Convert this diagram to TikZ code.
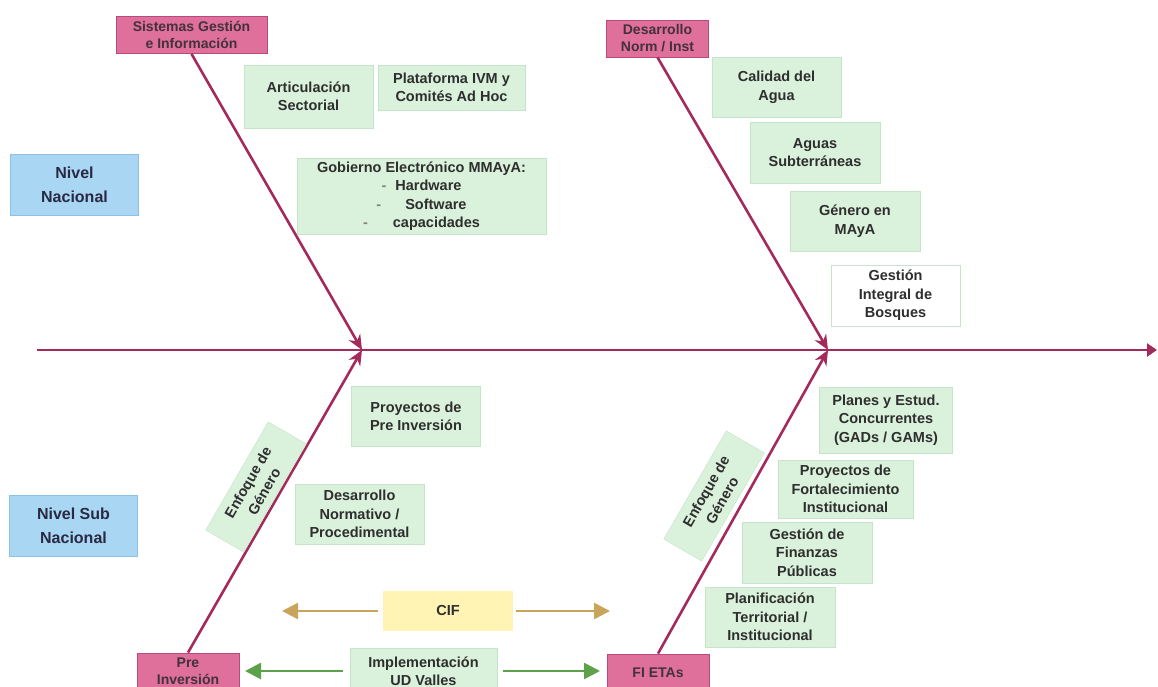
\documentclass[tikz,border=0pt]{standalone}
\usepackage{fontspec}
\setmainfont{Liberation Sans}
\usepackage{xcolor}
\usepackage{tikz}
\usetikzlibrary{calc,arrows.meta,positioning}
\definecolor{bonex}{HTML}{A52A5C}
\definecolor{pinkx}{HTML}{DF6F9B}
\definecolor{pinkdk}{HTML}{B84A7C}
\definecolor{mintx}{HTML}{DAF1DB}
\definecolor{mintdk}{HTML}{C6E4C7}
\definecolor{skyx}{HTML}{A8D6F3}
\definecolor{skydk}{HTML}{8CC2E6}
\definecolor{cifx}{HTML}{FFF4B3}
\definecolor{tanx}{HTML}{C9A55C}
\definecolor{grnx}{HTML}{5DA24B}
\definecolor{inkx}{HTML}{2E2E2E}
\tikzset{
  cause/.style={draw=pinkdk,fill=pinkx,thick,minimum width=102pt,minimum height=37pt,inner sep=0pt,align=center,font=\bfseries\fontsize{14}{17}\selectfont,text=inkx!85!pinkdk},
  nivel/.style={draw=skydk,fill=skyx,minimum width=128pt,minimum height=61pt,inner sep=0pt,align=center,font=\bfseries\fontsize{16}{24}\selectfont,text=inkx!90!blue},
  mint/.style={draw=mintdk,fill=mintx,minimum width=129pt,minimum height=60pt,inner sep=0pt,align=center,font=\bfseries\fontsize{14.5}{18.5}\selectfont,text=inkx},
  cifbox/.style={fill=cifx,minimum width=130pt,minimum height=40pt,inner sep=0pt,font=\bfseries\fontsize{14.5}{18.5}\selectfont,text=inkx},
  spine/.style={-{Triangle[length=10pt,width=13pt]},line width=2.6pt,bonex},
  bone/.style={-{Stealth[length=15pt,width=13pt]},line width=2.6pt,bonex},
  tanar/.style={-{Triangle[length=16pt,width=16pt]},line width=2.6pt,tanx},
  grnar/.style={-{Triangle[length=16pt,width=16pt]},line width=2.6pt,grnx}
}

\begin{document}
\begin{tikzpicture}[x=1pt,y=-1pt]
\useasboundingbox (0,0) rectangle (1158,687);
% espina
\coordinate (cola) at (37,350);
\coordinate (cabeza) at (1157,350);
\coordinate (j1) at (362,350);
\coordinate (j2) at (828,350);
\draw[spine] (cola) -- (cabeza);
% causas
\node[cause,minimum width=151pt] (sgi) at (191.5,35) {Sistemas Gestión\\e Información};
\node[cause] (dni) at (657.5,38.5) {Desarrollo\\Norm / Inst};
\node[cause] (pin) at (188,671.5) {Pre\\Inversión};
\node[cause] (fie) at (658,672.5) {FI ETAs};
\draw[bone] (sgi.south) -- (j1);
\draw[bone] (dni.south) -- (j2);
\draw[bone] (pin.north) -- (j1);
\draw[bone] (fie.north) -- (j2);
% niveles
\node[nivel] (nn) at (74.5,184.5) {Nivel\\Nacional};
\node[nivel] (nsn) at (73.5,525.5) {Nivel Sub\\Nacional};
% nivel nacional
\node[mint,minimum height=63pt] (art) at (308.5,96.5) {Articulación\\Sectorial};
\node[mint,minimum width=147pt,minimum height=45pt] (plat) at (451.5,87.5) {Plataforma IVM y\\Comités Ad Hoc};
\node[mint,minimum width=249pt,minimum height=76pt] (gob) at (421.5,196) {Gobierno Electrónico MMAyA:\\{\color{gray}-}\hspace{9pt}Hardware\\{\color{gray}-}\hspace{24pt}Software\\{\color{gray}-}\hspace{25pt}capacidades};
\node[mint] (cal) at (776.5,87.5) {Calidad del\\Agua};
\node[mint,minimum width=130pt,minimum height=61pt] (agu) at (815,152.5) {Aguas\\Subterráneas};
\node[mint,minimum width=130pt] (gen) at (855,221) {Género en\\MAyA};
\node[mint,fill=white,minimum height=61pt] (bos) at (895.5,295.5) {Gestión\\Integral de\\Bosques};
% nivel sub nacional
\node[mint] (pro) at (416,416.5) {Proyectos de\\Pre Inversión};
\node[mint] (dnp) at (359.5,514) {Desarrollo\\Normativo /\\Procedimental};
\node[mint,rotate=60,minimum width=125pt,minimum height=44pt] (eg1) at (256,487) {Enfoque de\\Género};
\node[mint,minimum width=133pt,minimum height=66pt] (pla) at (886,420) {Planes y Estud.\\Concurrentes\\(GADs / GAMs)};
\node[mint,minimum width=135pt,minimum height=58pt] (pfi) at (845.5,489) {Proyectos de\\Fortalecimiento\\Institucional};
\node[mint,minimum width=130pt,minimum height=61pt] (gfp) at (807,552.5) {Gestión de\\Finanzas\\Públicas};
\node[mint,minimum width=130pt] (ptn) at (770,617) {Planificación\\Territorial /\\Institucional};
\node[mint,rotate=60,minimum width=125pt,minimum height=44pt] (eg2) at (714,496) {Enfoque de\\Género};
% apoyo
\node[cifbox] (cif) at (448,611) {CIF};
\node[mint,minimum width=147pt,minimum height=45pt] (udv) at (423.5,671) {Implementación\\UD Valles};
\coordinate (cifL) at (282,611);
\coordinate (cifR) at (610,611);
\coordinate (udvL) at (245,671);
\coordinate (udvR) at (600,671);
\draw[tanar,shorten <=5pt] (cif) -- (cifL);
\draw[tanar,shorten <=3pt] (cif) -- (cifR);
\draw[grnar,shorten <=7pt] (udv) -- (udvL);
\draw[grnar,shorten <=6pt] (udv) -- (udvR);
\end{tikzpicture}
\end{document}
